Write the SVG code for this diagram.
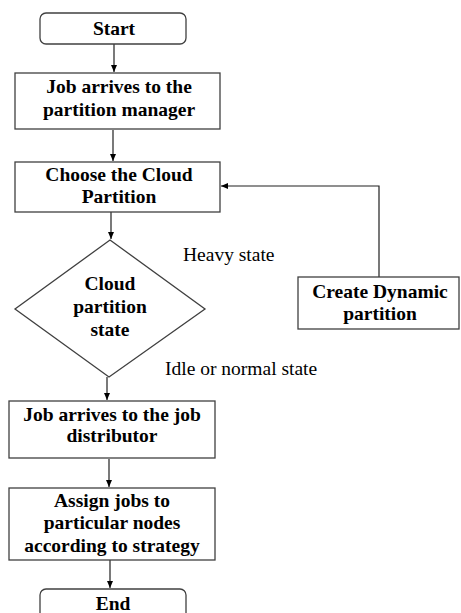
<svg xmlns="http://www.w3.org/2000/svg" width="461" height="613" viewBox="0 0 461 613">
<style>
.box{fill:#fff;stroke:#404040;stroke-width:1.3}
.t{font-family:"Liberation Serif","Times New Roman",serif;font-weight:bold;font-size:19.5px;fill:#000;text-anchor:middle}
.l{font-family:"Liberation Serif","Times New Roman",serif;font-size:19.5px;fill:#000}
.c{fill:none;stroke:#202020;stroke-width:1.2}
</style>
<defs>
<marker id="ah" markerWidth="8" markerHeight="8" refX="7" refY="4" orient="auto" markerUnits="userSpaceOnUse">
<path d="M0,1 L7,4 L0,7 Z" fill="#000"/>
</marker>
</defs>
<rect width="461" height="613" fill="#fff"/>
<g id="connectors">
<line class="c" x1="114" y1="44" x2="114" y2="72" marker-end="url(#ah)"/>
<line class="c" x1="113" y1="130" x2="113" y2="161" marker-end="url(#ah)"/>
<line class="c" x1="111" y1="212" x2="111" y2="239" marker-end="url(#ah)"/>
<line class="c" x1="107" y1="377" x2="107" y2="400" marker-end="url(#ah)"/>
<line class="c" x1="109" y1="459" x2="109" y2="487" marker-end="url(#ah)"/>
<line class="c" x1="110" y1="560" x2="110" y2="588" marker-end="url(#ah)"/>
<polyline class="c" points="379,277 379,186 221,186" marker-end="url(#ah)"/>
</g>
<g id="start">
<rect class="box" x="40" y="13" width="146" height="31" rx="6"/>
<text class="t" x="114" y="35">Start</text>
</g>
<g id="job-arrives-manager">
<rect class="box" x="15" y="73" width="205" height="56"/>
<text class="t" x="119" y="93">Job arrives to the</text>
<text class="t" x="119" y="116">partition manager</text>
</g>
<g id="choose-partition">
<rect class="box" x="15" y="162" width="205" height="50"/>
<text class="t" x="119" y="181">Choose the Cloud</text>
<text class="t" x="119" y="203">Partition</text>
</g>
<g id="decision">
<polygon class="box" points="110,240 205,309 109,377 15,309"/>
<text class="t" x="110" y="290">Cloud</text>
<text class="t" x="110" y="313">partition</text>
<text class="t" x="110" y="336">state</text>
</g>
<g id="create-dynamic">
<rect class="box" x="298" y="277" width="161" height="52"/>
<text class="t" x="380" y="298">Create Dynamic</text>
<text class="t" x="380" y="320">partition</text>
</g>
<g id="job-arrives-distributor">
<rect class="box" x="9" y="401" width="206" height="57"/>
<text class="t" x="112" y="421">Job arrives to the job</text>
<text class="t" x="112" y="442">distributor</text>
</g>
<g id="assign-jobs">
<rect class="box" x="9" y="488" width="206" height="72"/>
<text class="t" x="112" y="507">Assign jobs to</text>
<text class="t" x="112" y="529">particular nodes</text>
<text class="t" x="112" y="552">according to strategy</text>
</g>
<g id="end">
<rect class="box" x="40" y="589" width="146" height="40" rx="6"/>
<text class="t" x="113" y="610">End</text>
</g>
<g id="labels">
<text class="l" x="183" y="261">Heavy state</text>
<text class="l" x="165" y="375">Idle or normal state</text>
</g>
</svg>
